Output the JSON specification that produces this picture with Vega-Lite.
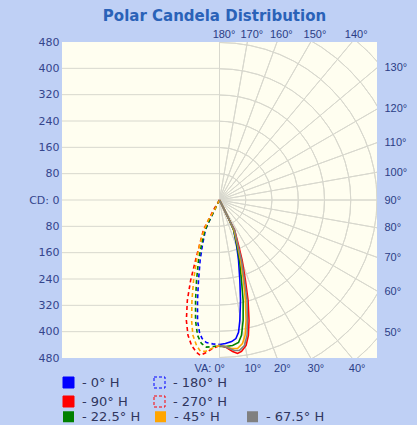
{
  "$schema": "https://vega.github.io/schema/vega-lite/v6.json",
  "autosize": "none",
  "width": 315,
  "height": 316,
  "padding": {"left": 62, "top": 42, "right": 40, "bottom": 67},
  "background": "#bfd0f5",
  "view": {"fill": "#fffef0", "stroke": null},
  "title": {"text": "Polar Candela Distribution", "font": "DejaVu Sans", "fontSize": 15, "fontWeight": "bold", "color": "#2a62b8", "anchor": "middle", "dx": -5, "offset": 4},
  "config": {"view": {"fill": "#fffef0", "stroke": null}, "style": {"view": {"fill": "#fffef0", "stroke": null}, "cell": {"fill": "#fffef0", "stroke": null}}},
  "datasets": {
    "hl": [{"y": -400}, {"y": -320}, {"y": -240}, {"y": -160}, {"y": -80}, {"y": 0}, {"y": 80}, {"y": 160}, {"y": 240}, {"y": 320}, {"y": 400}],
    "circ": [{"r": 80}, {"r": 160}, {"r": 240}, {"r": 320}, {"r": 400}, {"r": 480}, {"r": 560}, {"r": 640}],
    "rad": [{"va": 0}, {"va": 10}, {"va": 20}, {"va": 30}, {"va": 40}, {"va": 50}, {"va": 60}, {"va": 70}, {"va": 80}, {"va": 90}, {"va": 100}, {"va": 110}, {"va": 120}, {"va": 130}, {"va": 140}, {"va": 150}, {"va": 160}, {"va": 170}, {"va": 180}],
    "leg1": [{"plane": "0° H"}, {"plane": "180° H"}, {"plane": "90° H"}, {"plane": "270° H"}],
    "leg2": [{"plane": "22.5° H"}, {"plane": "45° H"}, {"plane": "67.5° H"}],
    "curves": [
      {"plane": "0° H", "side": "R", "i": 0, "x": 0, "y": 0},
      {"plane": "0° H", "side": "R", "i": 1, "x": 15, "y": -30},
      {"plane": "0° H", "side": "R", "i": 2, "x": 30, "y": -61},
      {"plane": "0° H", "side": "R", "i": 3, "x": 43, "y": -91},
      {"plane": "0° H", "side": "R", "i": 4, "x": 52, "y": -137},
      {"plane": "0° H", "side": "R", "i": 5, "x": 58, "y": -183},
      {"plane": "0° H", "side": "R", "i": 6, "x": 62, "y": -244},
      {"plane": "0° H", "side": "R", "i": 7, "x": 64, "y": -305},
      {"plane": "0° H", "side": "R", "i": 8, "x": 62, "y": -366},
      {"plane": "0° H", "side": "R", "i": 9, "x": 58, "y": -402},
      {"plane": "0° H", "side": "R", "i": 10, "x": 50, "y": -421},
      {"plane": "0° H", "side": "R", "i": 11, "x": 37, "y": -430},
      {"plane": "0° H", "side": "R", "i": 12, "x": 18, "y": -436},
      {"plane": "0° H", "side": "R", "i": 13, "x": 0, "y": -439},

      {"plane": "90° H", "side": "R", "i": 0, "x": 0, "y": 0},
      {"plane": "90° H", "side": "R", "i": 1, "x": 15, "y": -30},
      {"plane": "90° H", "side": "R", "i": 2, "x": 30, "y": -61},
      {"plane": "90° H", "side": "R", "i": 3, "x": 46, "y": -91},
      {"plane": "90° H", "side": "R", "i": 4, "x": 58, "y": -137},
      {"plane": "90° H", "side": "R", "i": 5, "x": 69, "y": -183},
      {"plane": "90° H", "side": "R", "i": 6, "x": 79, "y": -244},
      {"plane": "90° H", "side": "R", "i": 7, "x": 87, "y": -305},
      {"plane": "90° H", "side": "R", "i": 8, "x": 90, "y": -366},
      {"plane": "90° H", "side": "R", "i": 9, "x": 88, "y": -411},
      {"plane": "90° H", "side": "R", "i": 10, "x": 81, "y": -442},
      {"plane": "90° H", "side": "R", "i": 11, "x": 67, "y": -460},
      {"plane": "90° H", "side": "R", "i": 12, "x": 55, "y": -466},
      {"plane": "90° H", "side": "R", "i": 13, "x": 40, "y": -460},
      {"plane": "90° H", "side": "R", "i": 14, "x": 21, "y": -448},
      {"plane": "90° H", "side": "R", "i": 15, "x": 0, "y": -442},

      {"plane": "22.5° H", "side": "R", "i": 0, "x": 0, "y": 0},
      {"plane": "22.5° H", "side": "R", "i": 1, "x": 15, "y": -30},
      {"plane": "22.5° H", "side": "R", "i": 2, "x": 30, "y": -61},
      {"plane": "22.5° H", "side": "R", "i": 3, "x": 43, "y": -91},
      {"plane": "22.5° H", "side": "R", "i": 4, "x": 53, "y": -137},
      {"plane": "22.5° H", "side": "R", "i": 5, "x": 61, "y": -183},
      {"plane": "22.5° H", "side": "R", "i": 6, "x": 67, "y": -244},
      {"plane": "22.5° H", "side": "R", "i": 7, "x": 72, "y": -305},
      {"plane": "22.5° H", "side": "R", "i": 8, "x": 72, "y": -366},
      {"plane": "22.5° H", "side": "R", "i": 9, "x": 67, "y": -411},
      {"plane": "22.5° H", "side": "R", "i": 10, "x": 58, "y": -433},
      {"plane": "22.5° H", "side": "R", "i": 11, "x": 40, "y": -442},
      {"plane": "22.5° H", "side": "R", "i": 12, "x": 18, "y": -445},
      {"plane": "22.5° H", "side": "R", "i": 13, "x": 0, "y": -445},

      {"plane": "45° H", "side": "R", "i": 0, "x": 0, "y": 0},
      {"plane": "45° H", "side": "R", "i": 1, "x": 15, "y": -30},
      {"plane": "45° H", "side": "R", "i": 2, "x": 30, "y": -61},
      {"plane": "45° H", "side": "R", "i": 3, "x": 44, "y": -91},
      {"plane": "45° H", "side": "R", "i": 4, "x": 55, "y": -137},
      {"plane": "45° H", "side": "R", "i": 5, "x": 64, "y": -183},
      {"plane": "45° H", "side": "R", "i": 6, "x": 73, "y": -244},
      {"plane": "45° H", "side": "R", "i": 7, "x": 79, "y": -305},
      {"plane": "45° H", "side": "R", "i": 8, "x": 81, "y": -366},
      {"plane": "45° H", "side": "R", "i": 9, "x": 78, "y": -411},
      {"plane": "45° H", "side": "R", "i": 10, "x": 70, "y": -436},
      {"plane": "45° H", "side": "R", "i": 11, "x": 55, "y": -451},
      {"plane": "45° H", "side": "R", "i": 12, "x": 37, "y": -451},
      {"plane": "45° H", "side": "R", "i": 13, "x": 18, "y": -445},
      {"plane": "45° H", "side": "R", "i": 14, "x": 0, "y": -442},

      {"plane": "67.5° H", "side": "R", "i": 0, "x": 0, "y": 0},
      {"plane": "67.5° H", "side": "R", "i": 1, "x": 15, "y": -30},
      {"plane": "67.5° H", "side": "R", "i": 2, "x": 30, "y": -61},
      {"plane": "67.5° H", "side": "R", "i": 3, "x": 46, "y": -91},
      {"plane": "67.5° H", "side": "R", "i": 4, "x": 56, "y": -137},
      {"plane": "67.5° H", "side": "R", "i": 5, "x": 67, "y": -183},
      {"plane": "67.5° H", "side": "R", "i": 6, "x": 76, "y": -244},
      {"plane": "67.5° H", "side": "R", "i": 7, "x": 84, "y": -305},
      {"plane": "67.5° H", "side": "R", "i": 8, "x": 85, "y": -366},
      {"plane": "67.5° H", "side": "R", "i": 9, "x": 84, "y": -411},
      {"plane": "67.5° H", "side": "R", "i": 10, "x": 76, "y": -442},
      {"plane": "67.5° H", "side": "R", "i": 11, "x": 61, "y": -457},
      {"plane": "67.5° H", "side": "R", "i": 12, "x": 46, "y": -457},
      {"plane": "67.5° H", "side": "R", "i": 13, "x": 30, "y": -451},
      {"plane": "67.5° H", "side": "R", "i": 14, "x": 15, "y": -445},
      {"plane": "67.5° H", "side": "R", "i": 15, "x": 0, "y": -442},

      {"plane": "180° H", "side": "L", "i": 0, "x": 0, "y": 0},
      {"plane": "180° H", "side": "L", "i": 1, "x": -15, "y": -30},
      {"plane": "180° H", "side": "L", "i": 2, "x": -30, "y": -61},
      {"plane": "180° H", "side": "L", "i": 3, "x": -43, "y": -91},
      {"plane": "180° H", "side": "L", "i": 4, "x": -52, "y": -137},
      {"plane": "180° H", "side": "L", "i": 5, "x": -59, "y": -183},
      {"plane": "180° H", "side": "L", "i": 6, "x": -64, "y": -244},
      {"plane": "180° H", "side": "L", "i": 7, "x": -67, "y": -305},
      {"plane": "180° H", "side": "L", "i": 8, "x": -67, "y": -366},
      {"plane": "180° H", "side": "L", "i": 9, "x": -61, "y": -402},
      {"plane": "180° H", "side": "L", "i": 10, "x": -53, "y": -421},
      {"plane": "180° H", "side": "L", "i": 11, "x": -40, "y": -433},
      {"plane": "180° H", "side": "L", "i": 12, "x": -21, "y": -437},
      {"plane": "180° H", "side": "L", "i": 13, "x": 0, "y": -439},

      {"plane": "270° H", "side": "L", "i": 0, "x": 0, "y": 0},
      {"plane": "270° H", "side": "L", "i": 1, "x": -18, "y": -30},
      {"plane": "270° H", "side": "L", "i": 2, "x": -34, "y": -61},
      {"plane": "270° H", "side": "L", "i": 3, "x": -49, "y": -91},
      {"plane": "270° H", "side": "L", "i": 4, "x": -61, "y": -137},
      {"plane": "270° H", "side": "L", "i": 5, "x": -73, "y": -183},
      {"plane": "270° H", "side": "L", "i": 6, "x": -88, "y": -244},
      {"plane": "270° H", "side": "L", "i": 7, "x": -98, "y": -305},
      {"plane": "270° H", "side": "L", "i": 8, "x": -101, "y": -366},
      {"plane": "270° H", "side": "L", "i": 9, "x": -96, "y": -411},
      {"plane": "270° H", "side": "L", "i": 10, "x": -85, "y": -442},
      {"plane": "270° H", "side": "L", "i": 11, "x": -70, "y": -463},
      {"plane": "270° H", "side": "L", "i": 12, "x": -58, "y": -472},
      {"plane": "270° H", "side": "L", "i": 13, "x": -40, "y": -463},
      {"plane": "270° H", "side": "L", "i": 14, "x": -21, "y": -451},
      {"plane": "270° H", "side": "L", "i": 15, "x": 0, "y": -442},

      {"plane": "22.5° H", "side": "L", "i": 0, "x": 0, "y": 0},
      {"plane": "22.5° H", "side": "L", "i": 1, "x": -15, "y": -30},
      {"plane": "22.5° H", "side": "L", "i": 2, "x": -30, "y": -61},
      {"plane": "22.5° H", "side": "L", "i": 3, "x": -44, "y": -91},
      {"plane": "22.5° H", "side": "L", "i": 4, "x": -55, "y": -137},
      {"plane": "22.5° H", "side": "L", "i": 5, "x": -64, "y": -183},
      {"plane": "22.5° H", "side": "L", "i": 6, "x": -70, "y": -244},
      {"plane": "22.5° H", "side": "L", "i": 7, "x": -73, "y": -305},
      {"plane": "22.5° H", "side": "L", "i": 8, "x": -73, "y": -366},
      {"plane": "22.5° H", "side": "L", "i": 9, "x": -67, "y": -411},
      {"plane": "22.5° H", "side": "L", "i": 10, "x": -55, "y": -436},
      {"plane": "22.5° H", "side": "L", "i": 11, "x": -40, "y": -447},
      {"plane": "22.5° H", "side": "L", "i": 12, "x": -18, "y": -445},
      {"plane": "22.5° H", "side": "L", "i": 13, "x": 0, "y": -442},

      {"plane": "45° H", "side": "L", "i": 0, "x": 0, "y": 0},
      {"plane": "45° H", "side": "L", "i": 1, "x": -15, "y": -30},
      {"plane": "45° H", "side": "L", "i": 2, "x": -34, "y": -61},
      {"plane": "45° H", "side": "L", "i": 3, "x": -47, "y": -91},
      {"plane": "45° H", "side": "L", "i": 4, "x": -61, "y": -137},
      {"plane": "45° H", "side": "L", "i": 5, "x": -70, "y": -183},
      {"plane": "45° H", "side": "L", "i": 6, "x": -79, "y": -244},
      {"plane": "45° H", "side": "L", "i": 7, "x": -84, "y": -305},
      {"plane": "45° H", "side": "L", "i": 8, "x": -85, "y": -366},
      {"plane": "45° H", "side": "L", "i": 9, "x": -81, "y": -411},
      {"plane": "45° H", "side": "L", "i": 10, "x": -70, "y": -442},
      {"plane": "45° H", "side": "L", "i": 11, "x": -58, "y": -460},
      {"plane": "45° H", "side": "L", "i": 12, "x": -43, "y": -460},
      {"plane": "45° H", "side": "L", "i": 13, "x": -24, "y": -451},
      {"plane": "45° H", "side": "L", "i": 14, "x": 0, "y": -442}
    ]
  },
  "resolve": {
    "axis": {"x": "independent", "y": "independent"},
    "scale": {"fill": "independent", "stroke": "independent", "strokeDash": "independent"}
  },
  "layer": [
    {
      "data": {"name": "hl"},
      "mark": {"type": "rule", "stroke": "#d8d8ce", "strokeWidth": 1},
      "encoding": {
        "y": {"field": "y", "type": "quantitative", "scale": {"domain": [-480, 480], "nice": false, "zero": false}, "axis": null},
        "x": {"datum": -480, "type": "quantitative", "scale": {"domain": [-480, 480], "nice": false, "zero": false}, "axis": null},
        "x2": {"datum": 0}
      }
    },
    {
      "data": {"name": "circ"},
      "mark": {"type": "arc", "filled": false, "stroke": "#d8d8ce", "strokeWidth": 1, "clip": true},
      "encoding": {
        "theta": {"datum": 0, "type": "quantitative", "scale": {"type": "linear", "domain": [0, 180], "range": [3.14159265, 0], "zero": false}},
        "theta2": {"datum": 180},
        "radius": {"field": "r", "type": "quantitative", "scale": {"type": "linear", "domain": [0, 480], "range": [0, 157.5], "zero": true}},
        "radius2": {"field": "r"}
      }
    },
    {
      "data": {"name": "rad"},
      "mark": {"type": "arc", "filled": false, "stroke": "#d8d8ce", "strokeWidth": 1, "clip": true},
      "encoding": {
        "theta": {"field": "va", "type": "quantitative", "stack": null, "scale": {"type": "linear", "domain": [0, 180], "range": [3.14159265, 0], "zero": false}},
        "theta2": {"field": "va"},
        "radius": {"datum": 720, "type": "quantitative", "scale": {"type": "linear", "domain": [0, 480], "range": [0, 157.5], "zero": true}},
        "radius2": {"datum": 0}
      }
    },
    {
      "data": {"name": "curves"},
      "transform": [{"filter": {"field": "side", "equal": "L"}}],
      "mark": {"type": "line", "strokeWidth": 1.6, "strokeDash": [4, 3], "clip": true},
      "encoding": {
        "x": {"field": "x", "type": "quantitative", "scale": {"domain": [-480, 480], "nice": false, "zero": false}, "axis": null},
        "y": {"field": "y", "type": "quantitative", "scale": {"domain": [-480, 480], "nice": false, "zero": false}, "axis": null},
        "order": {"field": "i", "type": "quantitative"},
        "color": {"field": "plane", "type": "nominal",
          "scale": {"domain": ["0° H", "180° H", "90° H", "270° H", "22.5° H", "45° H", "67.5° H"], "range": ["#0000ff", "#0000ff", "#ff0000", "#ff0000", "#008000", "#ffa500", "#808080"]},
          "legend": null}
      }
    },
    {
      "data": {"name": "curves"},
      "transform": [{"filter": {"field": "side", "equal": "R"}}],
      "mark": {"type": "line", "strokeWidth": 1.6, "clip": true},
      "encoding": {
        "x": {"field": "x", "type": "quantitative", "scale": {"domain": [-480, 480], "nice": false, "zero": false},
          "axis": {"orient": "bottom", "values": [0, 84.64, 174.7, 277.1, 402.8], "labelExpr": "datum.value < 1 ? 'VA: 0°' : round(atan(datum.value/480)*180/PI) + '°'", "title": null, "domain": false, "ticks": false, "grid": false, "labelFont": "Liberation Sans", "labelFontSize": 11, "labelColor": "#2b3d85", "labelPadding": 4, "labelOffset": 5, "labelAlign": {"condition": {"test": "datum.value < 1", "value": "right"}, "value": "center"}, "labelFlush": false, "labelOverlap": false}},
        "y": {"field": "y", "type": "quantitative", "scale": {"domain": [-480, 480], "nice": false, "zero": false},
          "axis": {"orient": "left", "values": [-480, -400, -320, -240, -160, -80, 0, 80, 160, 240, 320, 400, 480], "labelExpr": "datum.value == 0 ? 'CD: 0' : '' + abs(datum.value)", "title": null, "domain": false, "ticks": false, "grid": false, "labelFont": "DejaVu Sans", "labelFontSize": 11, "labelColor": "#34458c", "labelPadding": 3, "labelFlush": false, "labelOverlap": false}},
        "order": {"field": "i", "type": "quantitative"},
        "color": {"field": "plane", "type": "nominal", "legend": null}
      }
    },
    {
      "data": {"name": "curves"},
      "transform": [{"filter": {"field": "plane", "equal": "__none__"}}],
      "mark": {"type": "line", "clip": true},
      "encoding": {
        "x": {"field": "x", "type": "quantitative", "scale": {"domain": [-480, 480], "nice": false, "zero": false},
          "axis": {"orient": "top", "values": [0, 84.64, 174.7, 277.1, 402.8], "labelExpr": "round(180 - atan(datum.value/480)*180/PI) + '°'", "title": null, "domain": false, "ticks": false, "grid": false, "labelFont": "Liberation Sans", "labelFontSize": 11, "labelColor": "#2b3d85", "labelPadding": 3, "labelOffset": 4, "labelFlush": false, "labelOverlap": false}},
        "y": {"field": "y", "type": "quantitative", "scale": {"domain": [-480, 480], "nice": false, "zero": false},
          "axis": {"orient": "right", "values": [-402.8, -277.1, -174.7, -84.64, 0, 84.64, 174.7, 277.1, 402.8], "labelExpr": "round(90 + atan(datum.value/480)*180/PI) + '°'", "title": null, "domain": false, "ticks": false, "grid": false, "labelFont": "Liberation Sans", "labelFontSize": 11, "labelColor": "#2b3d85", "labelPadding": 7, "labelFlush": false, "labelOverlap": false}}
      }
    },
    {
      "data": {"name": "leg1"},
      "mark": {"type": "square", "filled": true, "opacity": 0, "size": 121},
      "encoding": {
        "fill": {"field": "plane", "type": "nominal",
          "scale": {"domain": ["0° H", "180° H", "90° H", "270° H"], "range": ["#0000ff", "transparent", "#ff0000", "transparent"]},
          "legend": {"title": null, "orient": "none", "legendX": 0, "legendY": 334, "direction": "horizontal", "columns": 2, "gridAlign": "all", "columnPadding": 15, "rowPadding": 4, "symbolType": "square", "symbolSize": 121, "symbolStrokeWidth": 1, "symbolOpacity": 1, "labelFont": "DejaVu Sans", "labelFontSize": 13, "labelColor": "#30365e", "labelOffset": 7, "labelExpr": "'- ' + datum.label"}},
        "stroke": {"field": "plane", "type": "nominal",
          "scale": {"domain": ["0° H", "180° H", "90° H", "270° H"], "range": ["#0000ff", "#0000ff", "#ff0000", "#ff0000"]},
          "legend": {"title": null, "orient": "none", "legendX": 0, "legendY": 334, "direction": "horizontal", "columns": 2, "gridAlign": "all", "columnPadding": 15, "rowPadding": 4, "symbolType": "square", "symbolSize": 121, "symbolStrokeWidth": 1, "symbolOpacity": 1, "labelFont": "DejaVu Sans", "labelFontSize": 13, "labelColor": "#30365e", "labelOffset": 7, "labelExpr": "'- ' + datum.label"}},
        "strokeDash": {"field": "plane", "type": "nominal",
          "scale": {"domain": ["0° H", "180° H", "90° H", "270° H"], "range": [[1, 0], [3, 2], [1, 0], [3, 2]]},
          "legend": {"title": null, "orient": "none", "legendX": 0, "legendY": 334, "direction": "horizontal", "columns": 2, "gridAlign": "all", "columnPadding": 15, "rowPadding": 4, "symbolType": "square", "symbolSize": 121, "symbolStrokeWidth": 1, "symbolOpacity": 1, "labelFont": "DejaVu Sans", "labelFontSize": 13, "labelColor": "#30365e", "labelOffset": 7, "labelExpr": "'- ' + datum.label"}}
      }
    },
    {
      "data": {"name": "leg2"},
      "mark": {"type": "square", "filled": true, "opacity": 0, "size": 121},
      "encoding": {
        "fill": {"field": "plane", "type": "nominal",
          "scale": {"domain": ["22.5° H", "45° H", "67.5° H"], "range": ["#008000", "#ffa500", "#808080"]},
          "legend": {"title": null, "orient": "none", "legendX": 0, "legendY": 368, "direction": "horizontal", "columns": 3, "gridAlign": "all", "columnPadding": 13, "symbolType": "square", "symbolSize": 121, "symbolStrokeWidth": 0, "symbolOpacity": 1, "labelFont": "DejaVu Sans", "labelFontSize": 13, "labelColor": "#30365e", "labelOffset": 7, "labelExpr": "'- ' + datum.label"}}
      }
    }
  ]
}
